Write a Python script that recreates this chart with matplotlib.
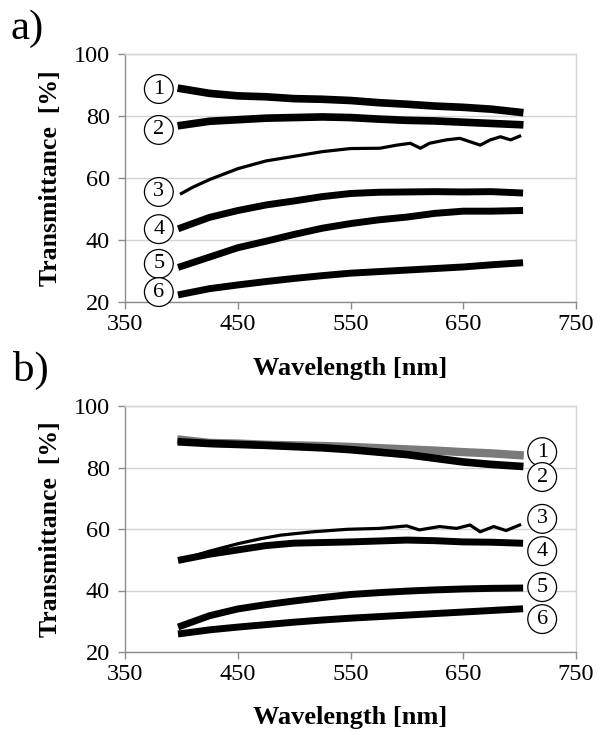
import matplotlib
matplotlib.use("Agg")
import matplotlib.pyplot as plt

plt.rcParams['font.family'] = ['Liberation Serif', 'DejaVu Serif']

# ---------------- data (panel a) ----------------
a1_x = [400, 425, 450, 475, 500, 525, 550, 575, 600, 625, 650, 675, 700]
a1_y = [88.8, 87.3, 86.5, 86.2, 85.6, 85.4, 85.0, 84.3, 83.8, 83.2, 82.8, 82.2, 81.2]
a2_x = [400, 425, 450, 475, 500, 525, 550, 575, 600, 625, 650, 675, 700]
a2_y = [77, 78.3, 78.8, 79.3, 79.5, 79.7, 79.5, 79.0, 78.6, 78.4, 78.0, 77.6, 77.2]
a3_x = [400, 410, 425, 450, 475, 500, 525, 550, 576, 591, 603, 612, 620, 635, 647, 656, 665, 674, 683, 692, 700]
a3_y = [55, 57, 59.5, 63, 65.5, 67, 68.5, 69.5, 69.6, 70.6, 71.2, 69.6, 71.2, 72.3, 72.8, 71.7, 70.6, 72.3, 73.3, 72.3, 73.5]
a4_x = [400, 425, 450, 475, 500, 525, 550, 575, 600, 625, 650, 675, 700]
a4_y = [44, 47.3, 49.5, 51.3, 52.6, 54.0, 55.0, 55.4, 55.5, 55.6, 55.5, 55.6, 55.2]
a5_x = [400, 425, 450, 475, 500, 525, 550, 575, 600, 625, 650, 675, 700]
a5_y = [31.5, 34.5, 37.5, 39.6, 41.8, 43.8, 45.3, 46.5, 47.4, 48.6, 49.3, 49.3, 49.5]
a6_x = [400, 425, 450, 475, 500, 525, 550, 575, 600, 625, 650, 675, 700]
a6_y = [22.5, 24.3, 25.5, 26.6, 27.6, 28.5, 29.3, 29.8, 30.3, 30.8, 31.3, 32.0, 32.6]

# ---------------- data (panel b) ----------------
b1_x = [400, 425, 450, 475, 500, 525, 550, 575, 600, 625, 650, 675, 700]
b1_y = [89.0, 88.0, 87.8, 87.4, 87.2, 87.0, 86.7, 86.3, 85.9, 85.5, 85.0, 84.6, 84.0]
b2_x = [400, 425, 450, 475, 500, 525, 550, 575, 600, 625, 650, 675, 700]
b2_y = [88.3, 87.8, 87.5, 87.2, 86.8, 86.4, 85.8, 85.0, 84.2, 83.0, 81.8, 81.0, 80.4]
b3_x = [400, 425, 450, 470, 488, 517, 547, 576, 600, 611, 629, 644, 656, 665, 677, 688, 700]
b3_y = [50.0, 52.8, 55.2, 56.8, 58.0, 59.1, 59.9, 60.2, 61.0, 59.7, 60.8, 60.2, 61.3, 59.1, 60.8, 59.5, 61.3]
b4_x = [400, 425, 450, 475, 500, 525, 550, 575, 600, 625, 650, 675, 700]
b4_y = [50.0, 51.8, 53.2, 54.6, 55.4, 55.6, 55.8, 56.1, 56.4, 56.2, 55.8, 55.7, 55.4]
b5_x = [400, 425, 450, 475, 500, 525, 550, 575, 600, 625, 650, 675, 700]
b5_y = [28.5, 31.8, 34.0, 35.4, 36.6, 37.7, 38.7, 39.3, 39.8, 40.2, 40.5, 40.7, 40.8]
b6_x = [400, 425, 450, 475, 500, 525, 550, 575, 600, 625, 650, 675, 700]
b6_y = [26.0, 27.2, 28.1, 28.9, 29.7, 30.4, 31.0, 31.5, 32.0, 32.5, 33.0, 33.5, 34.0]

x_ticks = [350, 450, 550, 650, 750]
y_ticks = [20, 40, 60, 80, 100]
labels_a_y = [88.7, 75.5, 55.5, 43.5, 32.3, 23.2]
labels_b_y = [85.0, 76.9, 63.3, 52.8, 41.1, 30.7]
circ_nums = ['1', '2', '3', '4', '5', '6']

W, H = 597, 732
fig = plt.figure(figsize=(W / 100, H / 100), dpi=100)

def px_axes(l, r, t, b):
    return fig.add_axes([l / W, 1 - b / H, (r - l) / W, (b - t) / H])

ax_a = px_axes(125, 576, 54, 302)
ax_b = px_axes(125, 576, 406, 652)

def style(ax):
    ax.set_xlim(350, 750)
    ax.set_ylim(20, 100)
    ax.set_xticks(x_ticks)
    ax.set_yticks(y_ticks)
    ax.set_xticklabels([str(v) for v in x_ticks])
    ax.set_yticklabels([str(v) for v in y_ticks])
    ax.grid(axis='y', color='#d4d4d4', lw=1.0)
    ax.set_axisbelow(True)
    for s in ['top', 'right']:
        ax.spines[s].set_color('#d4d4d4')
        ax.spines[s].set_linewidth(1.0)
    for s in ['left', 'bottom']:
        ax.spines[s].set_color('#8c8c8c')
        ax.spines[s].set_linewidth(1.0)
    ax.tick_params(axis='both', direction='out', length=5, width=1.0,
                   color='#8c8c8c', labelsize=17.5)
    ax.tick_params(axis='y', pad=6)
    ax.tick_params(axis='x', pad=4)
    ax.set_xlabel('Wavelength [nm]', fontsize=19, fontweight='bold')
    ax.set_ylabel('Transmittance  [%]', fontsize=18.5, fontweight='bold')
    ax.xaxis.set_label_coords(0.5, -0.22)
    ax.yaxis.set_label_coords(-0.14, 0.5)

style(ax_a)
style(ax_b)

NOISY = 5.0
# panel a lines
ax_a.plot(a1_x, a1_y, color='black', lw=NOISY + 0.5, solid_joinstyle='round')
ax_a.plot(a2_x, a2_y, color='black', lw=NOISY + 0.5, solid_joinstyle='round')
ax_a.plot(a3_x, a3_y, color='black', lw=2.3, solid_joinstyle='round')
ax_a.plot(a4_x, a4_y, color='black', lw=NOISY, solid_joinstyle='round')
ax_a.plot(a5_x, a5_y, color='black', lw=NOISY, solid_joinstyle='round')
ax_a.plot(a6_x, a6_y, color='black', lw=NOISY, solid_joinstyle='round')

# panel b lines
ax_b.plot(b1_x, b1_y, color='#7a7a7a', lw=NOISY + 1.0, solid_joinstyle='round')
ax_b.plot(b2_x, b2_y, color='black', lw=NOISY + 0.5, solid_joinstyle='round')
ax_b.plot(b3_x, b3_y, color='black', lw=2.3, solid_joinstyle='round')
ax_b.plot(b4_x, b4_y, color='black', lw=NOISY, solid_joinstyle='round')
ax_b.plot(b5_x, b5_y, color='black', lw=NOISY, solid_joinstyle='round')
ax_b.plot(b6_x, b6_y, color='black', lw=NOISY, solid_joinstyle='round')

circ = dict(boxstyle='circle,pad=0.22', fc='white', ec='black', lw=0.9)
for n, yv in zip(circ_nums, labels_a_y):
    ax_a.text(380, yv, n, fontsize=16, ha='center', va='center', bbox=circ, clip_on=False)
for n, yv in zip(circ_nums, labels_b_y):
    ax_b.text(720, yv, n, fontsize=16, ha='center', va='center', bbox=circ, clip_on=False)

fig.text(11 / W, 1 - 9 / H, 'a)', fontsize=31, ha='left', va='top')
fig.text(13 / W, 1 - 351 / H, 'b)', fontsize=31, ha='left', va='top')

fig.savefig('out.png', dpi=100)
